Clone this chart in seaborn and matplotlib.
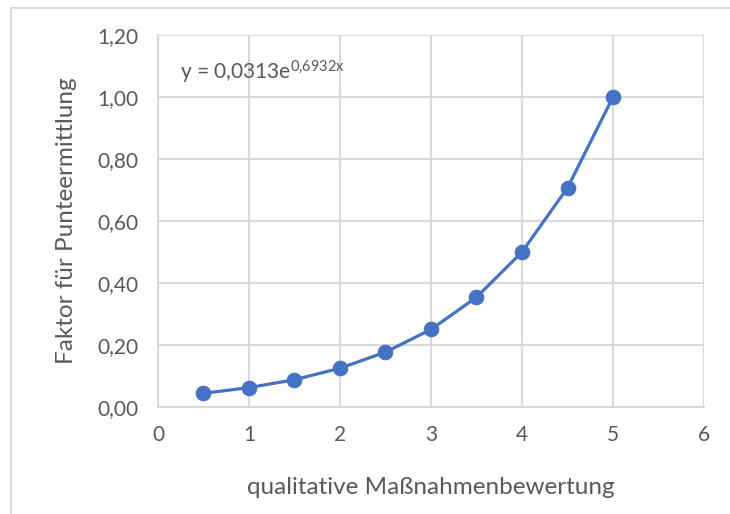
import matplotlib
matplotlib.use("Agg")
import matplotlib.pyplot as plt
import seaborn as sns
import pandas as pd
from matplotlib.ticker import FuncFormatter, MultipleLocator
from matplotlib.patches import Rectangle

# values
bewertung = [0.5, 1.0, 1.5, 2.0, 2.5, 3.0, 3.5, 4.0, 4.5, 5.0]
faktor = [0.044, 0.0625, 0.088, 0.125, 0.177, 0.25, 0.354, 0.5, 0.707, 1.0]
equation_text = "y = 0,0313e$^{0{,}6932x}$"

df = pd.DataFrame({"bewertung": bewertung, "faktor": faktor})

sns.set_theme(style="whitegrid")
plt.rcParams["font.family"] = ["Lato", "DejaVu Sans"]
plt.rcParams["mathtext.default"] = "regular"

grey_text = "#595959"
grid_col = "#d9d9d9"
blue = "#4472C4"

fig = plt.figure(figsize=(7.3, 5.14), dpi=100)
ax = fig.add_axes([0.2164, 0.2082, 0.748, 0.7237])

# chart area border (left and top visible)
fig.patches.append(Rectangle((11 / 730, -0.1), 1.2, 1 - 8 / 514 + 0.1, transform=fig.transFigure,
                             fill=False, edgecolor=grid_col, linewidth=1.5, zorder=0))

sns.lineplot(data=df, x="bewertung", y="faktor", ax=ax, color=blue, linewidth=2.3,
             marker="o", markersize=10.5, markeredgecolor=blue, clip_on=False)

ax.set_xlim(0, 6)
ax.set_ylim(0, 1.2)
ax.xaxis.set_major_locator(MultipleLocator(1))
ax.yaxis.set_major_locator(MultipleLocator(0.2))
ax.yaxis.set_major_formatter(FuncFormatter(lambda v, p: f"{v:.2f}".replace(".", ",")))

ax.grid(True, color=grid_col, linewidth=1.5)
for side in ["top", "right"]:
    ax.spines[side].set_visible(False)
for side in ["left", "bottom"]:
    ax.spines[side].set_color(grid_col)
    ax.spines[side].set_linewidth(1.5)
ax.tick_params(axis="both", length=0, labelsize=15, colors=grey_text)
ax.tick_params(axis="x", pad=13)
ax.tick_params(axis="y", pad=14)

ax.set_xlabel("qualitative Maßnahmenbewertung", fontsize=17.5, color=grey_text, labelpad=23)
ax.set_ylabel("Faktor für Punteermittlung", fontsize=17.5, color=grey_text, labelpad=15)

ax.text(0.24, 1.08, equation_text, fontsize=15, color=grey_text, va="center", ha="left")

fig.savefig("out.png", dpi=100)
